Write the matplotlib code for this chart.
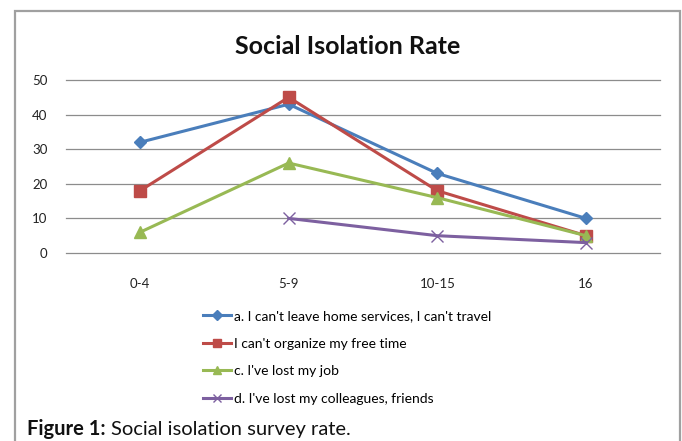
import matplotlib
matplotlib.use("Agg")
import matplotlib.pyplot as plt
import numpy as np
from matplotlib.patches import Rectangle

categories = ["0-4", "5-9", "10-15", "16"]
series_a = [32, 43, 23, 10]
series_b = [18, 45, 18, 5]
series_c = [6, 26, 16, 5]
series_d = [np.nan, 10, 5, 3]
labels = ["a. I can't leave home services, I can't travel",
          "I can't organize my free time",
          "c. I've lost my job",
          "d. I've lost my colleagues, friends"]
yticks = [0, 10, 20, 30, 40, 50]

plt.rcParams['font.family'] = ['Lato', 'DejaVu Sans']

W, H = 682, 441
fig = plt.figure(figsize=(W/100, H/100), dpi=100)

# outer frame
fig.patches.append(Rectangle((15/W, -0.1), (680-15)/W, 1.1 - 11/H,
                             transform=fig.transFigure, fill=False,
                             edgecolor='#a0a0a0', linewidth=1.6))

ax = fig.add_axes([65.7/W, 1-253/H, (660.3-65.7)/W, (253-80)/H])
x = np.arange(len(categories))
styles = [
    (series_a, '#4A7EBB', 'D', 6),
    (series_b, '#BE4B48', 's', 8),
    (series_c, '#98B954', '^', 8),
    (series_d, '#7D60A0', 'x', 8),
]
for (vals, col, m, ms), lab in zip(styles, labels):
    ax.plot(x, vals, color=col, marker=m, markersize=ms, linewidth=2.2,
            markeredgewidth=1, markeredgecolor=col,
            label=lab, zorder=3)

ax.set_xlim(-0.5, len(categories) - 0.5)
ax.set_ylim(0, 50)
ax.set_yticks(yticks)
ax.set_xticks(x)
ax.set_xticklabels(categories)
ax.grid(axis='y', color='#8c8c8c', linewidth=0.9)
for gl in ax.get_ygridlines():
    gl.set_clip_on(False)
ax.set_axisbelow(True)
for s in ax.spines.values():
    s.set_visible(False)
ax.tick_params(axis='both', length=0, labelsize=9.5, colors='#222222')
ax.tick_params(axis='y', pad=13)
ax.tick_params(axis='x', pad=18)

fig.text(348/W, 1-46/H, "Social Isolation Rate", ha='center', va='center',
         fontsize=18, fontweight='bold', color='#111111')

handles, labs = ax.get_legend_handles_labels()
leg = fig.legend(handles, labs, loc='upper left', bbox_to_anchor=(203/W, 1-310/H),
                 frameon=False, fontsize=10, handlelength=2.0, handletextpad=0.2,
                 labelspacing=1.12, borderaxespad=0, borderpad=0, markerscale=0.8)

cap_y = 1 - 429/H
t1 = fig.text(27/W, cap_y, "Figure 1:", ha='left', va='center', fontsize=14.5,
              fontweight='bold', color='#111111')
fig.canvas.draw()
bb = t1.get_window_extent()
fig.text((bb.x1 + 5)/W, cap_y, "Social isolation survey rate.", ha='left', va='center',
         fontsize=14.5, color='#111111')
fig.savefig("out.png", dpi=100)
